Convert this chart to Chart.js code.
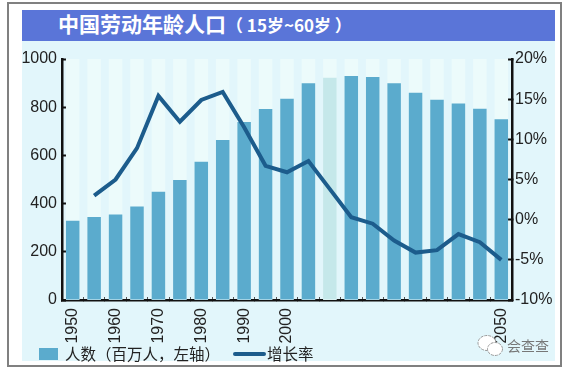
<!DOCTYPE html>
<html lang="zh">
<head>
<meta charset="utf-8">
<title>中国劳动年龄人口</title>
<script src="https://cdn.jsdelivr.net/npm/chart.js@4/dist/chart.umd.min.js"></script>
<style>
  html, body { margin: 0; padding: 0; background: #fff; overflow: hidden; }
  #wrap { position: relative; width: 566px; height: 370px; font-family: "Noto Sans CJK SC", sans-serif; }
  #frame { position: absolute; left: 7px; top: 2px; width: 551px; height: 361px; border: 2px solid #808080; }
  #panel { position: absolute; left: 22px; top: 10px; width: 533px; height: 351px; background: #e2f6fb; }
  #band { position: absolute; left: 22px; top: 10px; width: 533px; height: 31px; background: #5a75d8; }
  #heading { position: absolute; left: 58px; top: 9px; height: 31px; line-height: 29px; color: #fff; font-size: 21px; font-weight: 700; white-space: nowrap; }
  #heading span { font-size: 17px; margin-left: 0; }
  canvas { position: absolute; left: 0; top: 0; }
  .legend-text { position: absolute; top: 343px; height: 20px; line-height: 20px; font-size: 15.5px; color: #222; white-space: nowrap; }
  #swatch { position: absolute; left: 39px; top: 348px; width: 19px; height: 12px; background: #5babcd; }
  #dash { position: absolute; left: 233px; top: 352px; width: 33px; height: 4px; border-radius: 2px; background: #1c5c8c; }
  #mark { position: absolute; left: 507px; top: 336px; font-size: 14px; line-height: 18px; color: #777; white-space: nowrap; }
  #logo { position: absolute; left: 477px; top: 334px; }
</style>
</head>
<body>
<div id="wrap">
  <div id="frame"></div>
  <div id="panel"></div>
  <div id="band"></div>
  <div id="heading">中国劳动年龄人口<span>（ 15岁~60岁 ）</span></div>
  <canvas id="laborChart" width="566" height="370"></canvas>
  <div id="swatch"></div>
  <div class="legend-text" style="left:65px">人数（百万人，左轴）</div>
  <div id="dash"></div>
  <div class="legend-text" style="left:267px">增长率</div>
  <svg id="logo" width="28" height="24" viewBox="0 0 28 24">
    <ellipse cx="10" cy="9" rx="9" ry="7.5" fill="#fff" stroke="#999" stroke-dasharray="3 1"/>
    <ellipse cx="18" cy="15" rx="7.5" ry="6.5" fill="#fff" stroke="#999" stroke-dasharray="3 1"/>
  </svg>
  <div id="mark">会查查</div>
</div>
<script>
// Values
const years = [1950, 1955, 1960, 1965, 1970, 1975, 1980, 1985, 1990, 1995, 2000,
               2005, 2010, 2015, 2020, 2025, 2030, 2035, 2040, 2045, 2050];
const people = [329, 344, 355, 388, 449, 498, 574, 664, 739, 793, 835,
                899, 922, 929, 925, 899, 860, 831, 815, 794, 750];
const growth = [null, 3.0, 5.0, 8.9, 15.4, 12.2, 14.9, 15.9, 11.5, 6.7, 5.9,
                7.3, 3.8, 0.3, -0.5, -2.6, -4.1, -3.8, -1.8, -2.8, -5.0];
const labelledYears = [1950, 1960, 1970, 1980, 1990, 2000, 2050];

const barColors = years.map(y => y === 2010 ? '#c5e8ea' : '#5babcd');
const axisFont = { family: '"Liberation Sans", Arial, sans-serif', size: 16 };

// Pale column behind every bar, full height of the plot
const columnStripes = {
  id: 'columnStripes',
  beforeDatasetsDraw(chart) {
    const { ctx, chartArea } = chart;
    ctx.save();
    ctx.fillStyle = '#ecfbfb';
    chart.getDatasetMeta(1).data.forEach(bar => {
      ctx.fillRect(bar.x - bar.width / 2, chartArea.top, bar.width, chartArea.bottom - chartArea.top);
    });
    ctx.restore();
  }
};

new Chart(document.getElementById('laborChart').getContext('2d'), {
  data: {
    labels: years,
    datasets: [
      {
        type: 'line',
        label: '增长率',
        data: growth,
        yAxisID: 'y1',
        borderColor: '#1c5c8c',
        borderWidth: 4,
        borderJoinStyle: 'miter',
        tension: 0,
        pointRadius: 0,
        order: 1
      },
      {
        type: 'bar',
        label: '人数（百万人，左轴）',
        data: people,
        yAxisID: 'y',
        backgroundColor: barColors,
        barPercentage: 0.63,
        categoryPercentage: 1,
        order: 2
      }
    ]
  },
  options: {
    responsive: false,
    animation: false,
    layout: { padding: { top: 59, left: 0, right: 0, bottom: 0 } },
    plugins: { legend: { display: false }, tooltip: { enabled: false }, title: { display: false } },
    scales: {
      x: {
        offset: true,
        afterFit: scale => { scale.height = 70; },
        border: { color: '#111', width: 2.5 },
        grid: { offset: true, drawOnChartArea: false, tickLength: -3, tickColor: '#555', tickWidth: 1 },
        ticks: {
          autoSkip: false,
          maxRotation: 90,
          minRotation: 90,
          padding: 11,
          color: '#222',
          font: axisFont,
          callback(value) {
            const year = years[value];
            return labelledYears.includes(year) ? String(year) : '';
          }
        }
      },
      y: {
        position: 'left',
        min: 0,
        max: 1000,
        afterFit: scale => { scale.width = 62; },
        border: { color: '#111', width: 2.5 },
        grid: { drawOnChartArea: false, tickLength: -4, tickColor: '#111', tickWidth: 2 },
        ticks: { stepSize: 200, padding: 9, color: '#222', font: axisFont, callback: v => String(v) }
      },
      y1: {
        position: 'right',
        min: -10,
        max: 20,
        afterFit: scale => { scale.width = 54; },
        border: { color: '#111', width: 2.5 },
        grid: { drawOnChartArea: false, tickLength: -4, tickColor: '#111', tickWidth: 2 },
        ticks: { stepSize: 5, padding: 7, color: '#222', font: axisFont, callback: v => v + '%' }
      }
    }
  },
  plugins: [columnStripes]
});
</script>
</body>
</html>
